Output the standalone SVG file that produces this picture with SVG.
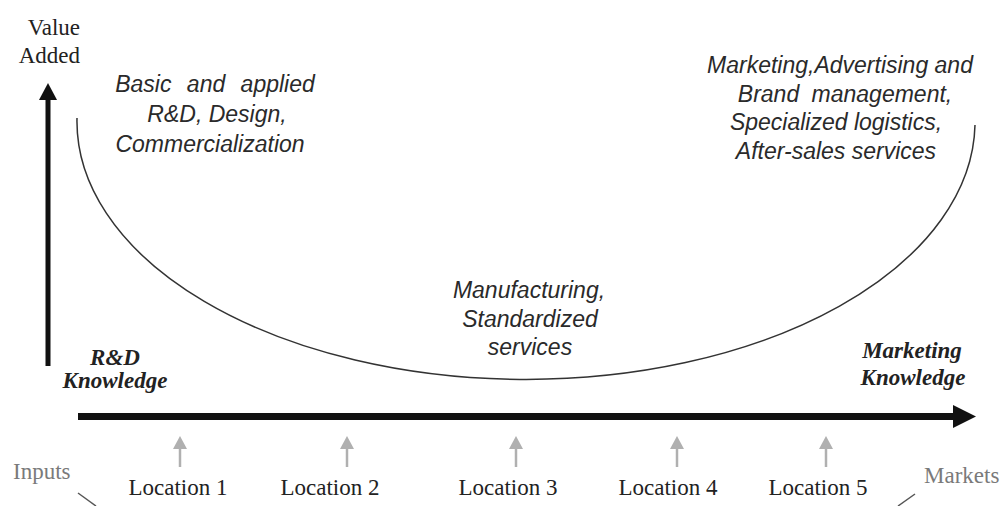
<svg xmlns="http://www.w3.org/2000/svg" width="1002" height="506" viewBox="0 0 1002 506">
<style>
.serif{font-family:"Liberation Serif","Times New Roman",serif;font-size:23px;fill:#222}
.gray{fill:#7a7a7a}
.bi{font-family:"Liberation Serif","Times New Roman",serif;font-size:23px;font-weight:bold;font-style:italic;fill:#222;text-anchor:middle}
.it{font-family:"Liberation Sans",Arial,sans-serif;font-size:23px;font-style:italic;fill:#2a2a2a;text-anchor:middle}
.mid{text-anchor:middle}
.garrow{stroke:#b0b0b0;stroke-width:2.5;fill:none}
</style>
<defs>
<marker id="gh" markerWidth="13" markerHeight="14" refX="1" refY="7" orient="auto" markerUnits="userSpaceOnUse" viewBox="0 0 13 14">
<path d="M0,0 L13,7 L0,14 Z" fill="#b0b0b0"/>
</marker>
</defs>
<rect width="1002" height="506" fill="#ffffff"/>

<g id="axes">
<line x1="48" y1="366" x2="48" y2="98" stroke="#111" stroke-width="5"/>
<path d="M39,100 L48,83 L57,100 Z" fill="#111"/>
<line x1="78" y1="416.5" x2="956" y2="416.5" stroke="#111" stroke-width="7"/>
<path d="M953,405 L976,416.5 L953,428 Z" fill="#111"/>
</g>

<g id="curve">
<path d="M77,118 A449,258 0 0 0 975,125" fill="none" stroke="#333" stroke-width="1.5"/>
</g>

<g id="connectors">
<line class="garrow" x1="180" y1="467" x2="180" y2="448" marker-end="url(#gh)"/>
<line class="garrow" x1="347" y1="467" x2="347" y2="448" marker-end="url(#gh)"/>
<line class="garrow" x1="516" y1="467" x2="516" y2="448" marker-end="url(#gh)"/>
<line class="garrow" x1="677" y1="467" x2="677" y2="448" marker-end="url(#gh)"/>
<line class="garrow" x1="826" y1="467" x2="826" y2="448" marker-end="url(#gh)"/>
<line x1="78" y1="493" x2="96" y2="506" stroke="#555" stroke-width="1.5"/>
<line x1="915" y1="494" x2="898" y2="506" stroke="#555" stroke-width="1.5"/>
</g>

<g id="value-added">
<text class="serif" x="80" y="35" text-anchor="end" font-size="22">Value</text>
<text class="serif" x="80" y="63" text-anchor="end" font-size="22">Added</text>
</g>

<g id="upstream">
<text class="it" x="215" y="92" word-spacing="9">Basic and applied</text>
<text class="it" x="217" y="122">R&amp;D, Design,</text>
<text class="it" x="210" y="152">Commercialization</text>
</g>

<g id="downstream">
<text class="it" x="840" y="73">Marketing,Advertising and</text>
<text class="it" x="845" y="102" word-spacing="6">Brand management,</text>
<text class="it" x="836" y="130">Specialized logistics,</text>
<text class="it" x="836" y="159">After-sales services</text>
</g>

<g id="manufacturing">
<text class="it" x="529" y="298">Manufacturing,</text>
<text class="it" x="530" y="327">Standardized</text>
<text class="it" x="530" y="355">services</text>
</g>

<g id="rd-knowledge">
<text class="bi" x="115" y="365">R&amp;D</text>
<text class="bi" x="115" y="388">Knowledge</text>
</g>

<g id="marketing-knowledge">
<text class="bi" x="912" y="358">Marketing</text>
<text class="bi" x="913" y="385">Knowledge</text>
</g>

<g id="inputs"><text class="serif gray" x="13" y="479">Inputs</text></g>
<g id="markets"><text class="serif gray" x="924" y="483">Markets</text></g>

<g id="locations">
<text class="serif mid" x="178" y="495">Location 1</text>
<text class="serif mid" x="330" y="495">Location 2</text>
<text class="serif mid" x="508" y="495">Location 3</text>
<text class="serif mid" x="668" y="495">Location 4</text>
<text class="serif mid" x="818" y="495">Location 5</text>
</g>
</svg>
